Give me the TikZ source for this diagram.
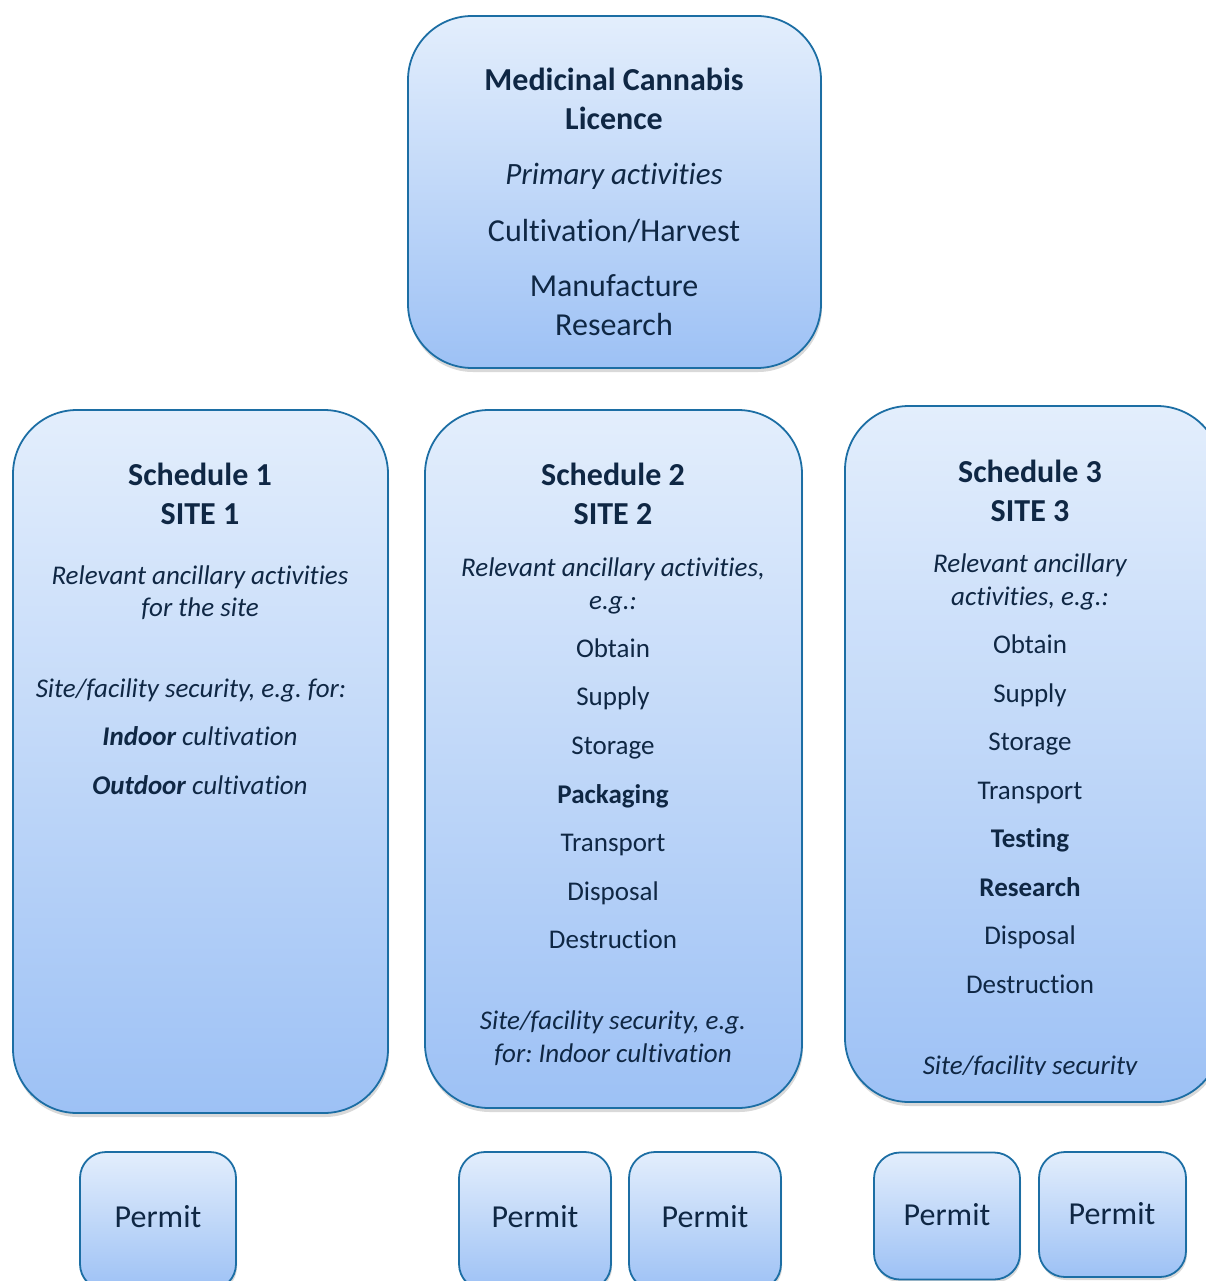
\documentclass[tikz,border=0pt]{standalone}
\usepackage{fontspec}
\setmainfont{Carlito}[RawFeature={-liga}]
\frenchspacing
\usetikzlibrary{shadows}
\definecolor{bordc}{HTML}{1C6EA4}
\definecolor{topc}{HTML}{E3EEFC}
\definecolor{botc}{HTML}{9DC1F5}
\definecolor{txt}{HTML}{0F2744}
\tikzset{
  bigbox/.style={rectangle, rounded corners=64pt, draw=bordc, line width=1.8pt,
    top color=topc, bottom color=botc, inner sep=0pt,
    drop shadow={shadow xshift=1pt, shadow yshift=-4pt, opacity=0.3}},
  permitbox/.style={rectangle, rounded corners=26pt, draw=bordc, line width=1.8pt,
    top color=topc, bottom color=botc, inner sep=0pt,
    drop shadow={shadow xshift=1pt, shadow yshift=-3pt, opacity=0.3}},
  ttl/.style={anchor=base, text=txt, inner sep=0pt, font=\fontsize{32}{38}\selectfont\bfseries},
  big/.style={anchor=base, text=txt, inner sep=0pt, font=\fontsize{32}{38}\selectfont},
  bigit/.style={anchor=base, text=txt, inner sep=0pt, font=\fontsize{31}{38}\selectfont\itshape},
  body/.style={anchor=base, text=txt, inner sep=0pt, font=\fontsize{27}{32}\selectfont},
  bodyit/.style={anchor=base, text=txt, inner sep=0pt, font=\fontsize{27}{32}\selectfont\itshape},
  bodybf/.style={anchor=base, text=txt, inner sep=0pt, font=\fontsize{27}{32}\selectfont\bfseries},
}
\begin{document}
\begin{tikzpicture}[x=1pt,y=-1pt]
\useasboundingbox (0,0) rectangle (1205,1281);

% top licence box
\node[bigbox, minimum width=413pt, minimum height=352pt] (lic) at (614.5,192) {};
\node[ttl] (l1) at (614,91) {Medicinal Cannabis};
\node[ttl] (l2) at (614,130) {Licence};
\node[bigit] (l3) at (614,185) {Primary activities};
\node[big] (l4) at (614,241) {Cultivation/Harvest};
\node[big] (l5) at (614,296) {Manufacture};
\node[big] (l6) at (614,335) {Research};

% schedule 1
\node[bigbox, minimum width=375pt, minimum height=703pt] (s1) at (200.5,761.5) {};
\node[ttl] (a1) at (200,485) {Schedule 1};
\node[ttl] (a2) at (200,524) {SITE 1};
\node[bodyit] (a3) at (200,584) {Relevant ancillary activities};
\node[bodyit] (a4) at (200,616) {for the site};
\node[bodyit] (a5) at (191,697) {Site/facility security, e.g. for:};
\node[bodyit] (a6) at (200,745) {\textbf{Indoor} cultivation};
\node[bodyit] (a7) at (200,794) {\textbf{Outdoor} cultivation};

% schedule 2
\node[bigbox, minimum width=377pt, minimum height=698pt] (s2) at (613.5,759) {};
\node[ttl] (b1) at (613,485) {Schedule 2};
\node[ttl] (b2) at (613,524) {SITE 2};
\node[bodyit] (b3) at (613,576) {Relevant ancillary activities,};
\node[bodyit] (b4) at (613,609) {e.g.:};
\node[body] (b5) at (613,657) {Obtain};
\node[body] (b6) at (613,705) {Supply};
\node[body] (b7) at (613,754) {Storage};
\node[bodybf] (b8) at (613,803) {Packaging};
\node[body] (b9) at (613,851) {Transport};
\node[body] (b10) at (613,900) {Disposal};
\node[body] (b11) at (613,948) {Destruction};
\node[bodyit] (b12) at (613,1029) {Site/facility security, e.g.};
\node[bodyit] (b13) at (613,1062) {for: Indoor cultivation};

% schedule 3
\node[bigbox, minimum width=376pt, minimum height=696pt] (s3) at (1033,754) {};
\node[ttl] (c1) at (1030,482) {Schedule 3};
\node[ttl] (c2) at (1030,521) {SITE 3};
\node[bodyit] (c3) at (1030,572) {Relevant ancillary};
\node[bodyit] (c4) at (1030,605) {activities, e.g.:};
\node[body] (c5) at (1030,653) {Obtain};
\node[body] (c6) at (1030,702) {Supply};
\node[body] (c7) at (1030,750) {Storage};
\node[body] (c8) at (1030,799) {Transport};
\node[bodybf] (c9) at (1030,847) {Testing};
\node[bodybf] (c10) at (1030,896) {Research};
\node[body] (c11) at (1030,944) {Disposal};
\node[body] (c12) at (1030,993) {Destruction};
\begin{scope}
  \clip (860,1040) rectangle (1200,1074);
  \node[bodyit] (c13) at (1030,1074) {Site/facility security};
\end{scope}

% permits
\node[permitbox, minimum width=156pt, minimum height=138pt] (p1) at (158,1221) {};
\node[big] (p1t) at (158,1227) {Permit};
\node[permitbox, minimum width=152pt, minimum height=138pt] (p2) at (535,1221) {};
\node[big] (p2t) at (535,1227) {Permit};
\node[permitbox, minimum width=152pt, minimum height=138pt] (p3) at (705,1221) {};
\node[big] (p3t) at (705,1227) {Permit};
\node[permitbox, minimum width=146pt, minimum height=127pt] (p4) at (947,1216) {};
\node[big] (p4t) at (947,1225) {Permit};
\node[permitbox, minimum width=147pt, minimum height=125pt] (p5) at (1112.5,1214.5) {};
\node[big] (p5t) at (1112,1224) {Permit};
\end{tikzpicture}
\end{document}
